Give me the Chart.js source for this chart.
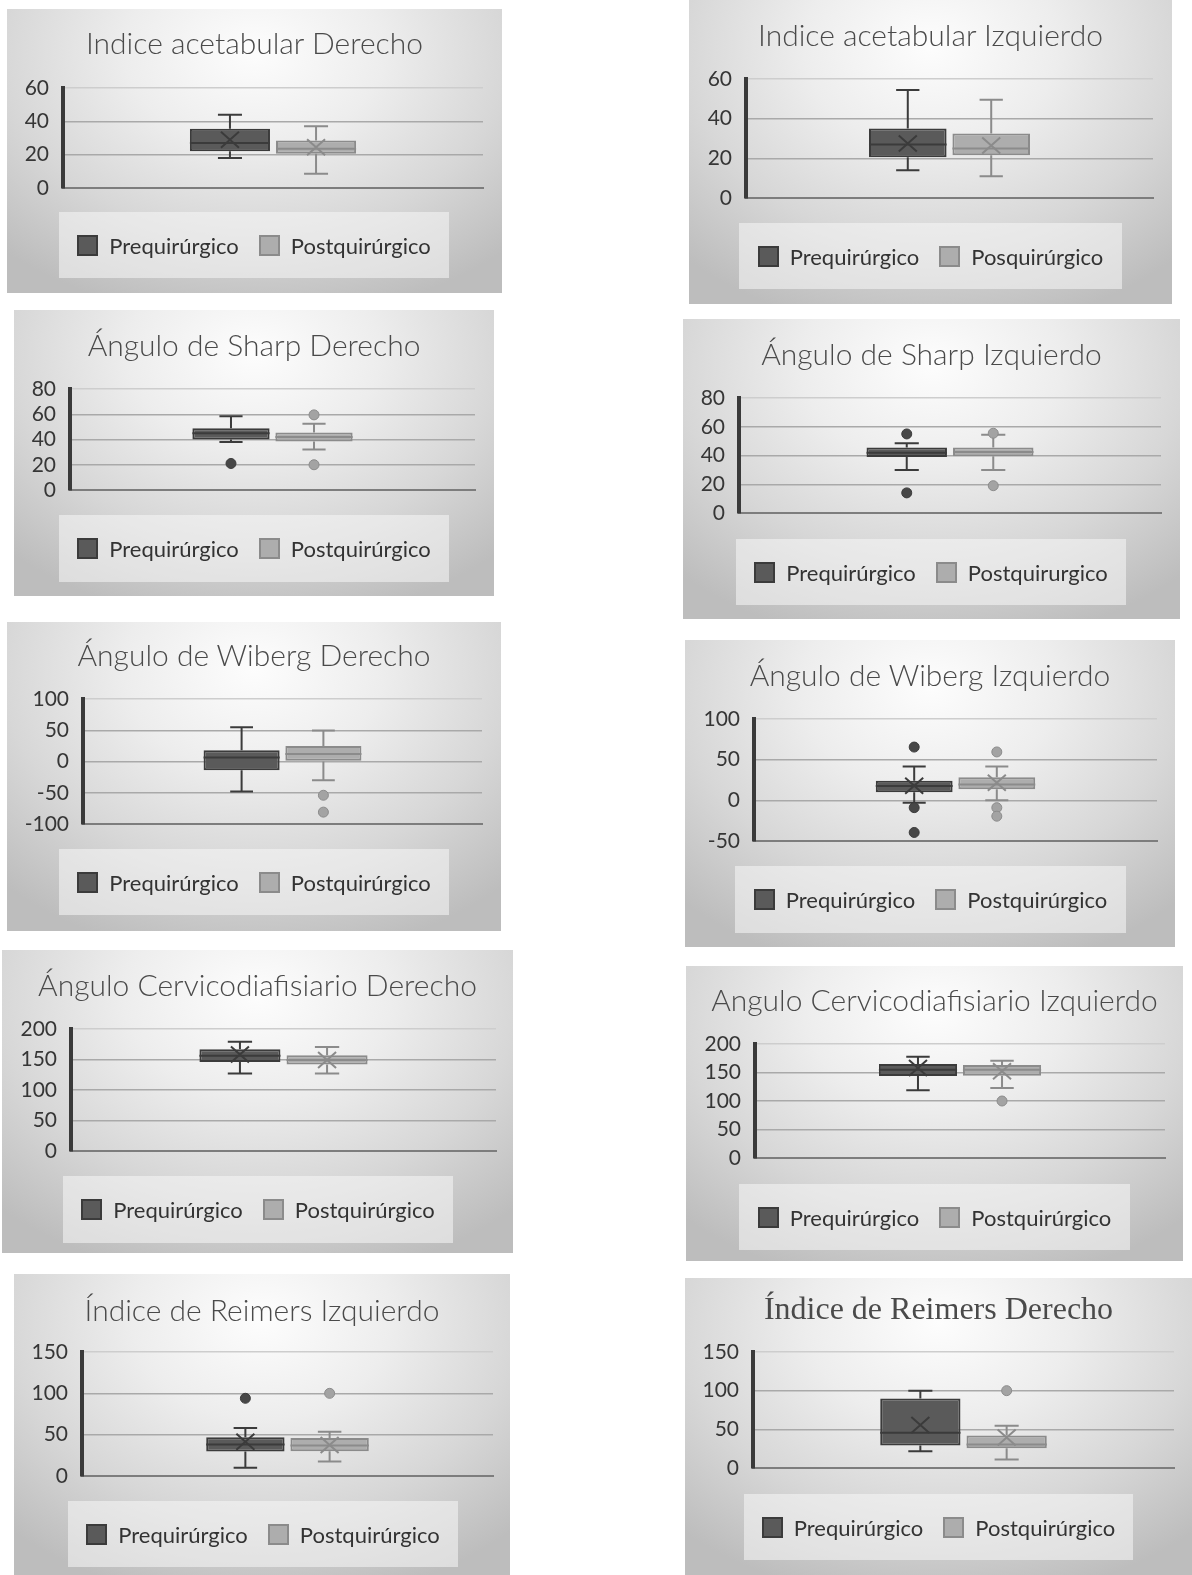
<!DOCTYPE html>
<html>
<head>
<meta charset="utf-8">
<script src="https://cdn.jsdelivr.net/npm/chart.js@4.4.0/dist/chart.umd.min.js"></script>
<style>
  body { margin: 0; background: #fff; width: 1192px; height: 1575px; position: relative; overflow: hidden; font-family: Lato, sans-serif; }
  .panel { position: absolute; background: radial-gradient(ellipse 75% 95% at 50% 15%, #fdfdfd 0%, #ededed 35%, #d7d7d7 68%, #bdbdbd 100%); }
  .panel canvas { position: absolute; left: 0; top: 0; }
  .title { position: absolute; left: 0; width: 100%; text-align: center; font-weight: 300; color: #4a4a4a; white-space: nowrap; line-height: 1; }
  .legend { position: absolute; background: rgba(248,248,248,0.55); display: flex; align-items: center; justify-content: center; font-size: 22px; color: #333; }
  .legend .item { display: flex; align-items: center; margin: 0 10px; }
  .legend .sw { width: 17px; height: 17px; border: 2px solid; margin-right: 11px; }
</style>
</head>
<body>
<script>
// panels in reading order: left, right, left, right ...
const titles = [
  'Indice acetabular Derecho', 'Indice acetabular Izquierdo',
  'Ángulo de Sharp Derecho', 'Ángulo de Sharp Izquierdo',
  'Ángulo de Wiberg Derecho', 'Ángulo de Wiberg Izquierdo',
  'Ángulo Cervicodiafisiario Derecho', 'Angulo Cervicodiafisiario Izquierdo',
  'Índice de Reimers Izquierdo', 'Índice de Reimers Derecho'
];
const preLabel = 'Prequirúrgico';
const postLabels = ['Postquirúrgico', 'Posquirúrgico', 'Postquirúrgico', 'Postquirurgico', 'Postquirúrgico',
  'Postquirúrgico', 'Postquirúrgico', 'Postquirúrgico', 'Postquirúrgico', 'Postquirúrgico'];

const yMin  = [0, 0, 0, 0, -100, -50, 0, 0, 0, 0];
const yMax  = [60, 60, 80, 80, 100, 100, 200, 200, 150, 150];
const yStep = [20, 20, 20, 20, 50, 50, 50, 50, 50, 50];

// Prequirúrgico: [min, q1, median, q3, max]
const preBox = [
  [18, 22, 27, 35.5, 44], [14, 20.5, 27, 35, 54.5],
  [38, 40, 45, 49, 58.5], [30, 39, 42, 45.5, 48.5],
  [-48, -14, 6.5, 18, 55], [-3, 10, 17.5, 24, 41.5],
  [127, 146, 156, 167, 179], [119, 144, 155, 165, 177.5],
  [10, 29.5, 38, 47, 58], [21.5, 29, 45.5, 90, 100]
];
const preMean = [29, 27.5, null, null, null, 18, 158, 158, 41.5, 55.5];
const preOutliers = [[], [], [21], [55, 14], [], [65.5, -9, -39.5], [], [], [94], []];

// Postquirúrgico: [min, q1, median, q3, max]
const postBox = [
  [8.5, 20.5, 23.5, 28.5, 37], [11, 21.5, 25, 32.5, 49.5],
  [32, 38.5, 42, 45.5, 52.5], [30, 39.5, 42.5, 45.5, 54.5],
  [-30, 0, 12, 25, 49.5], [0, 13.5, 19.5, 28.5, 41.5],
  [127, 142, 149, 157, 170.5], [123, 144.5, 155, 163, 170.5],
  [17.5, 30, 37, 46, 53.5], [11, 25.5, 30.5, 42, 54.5]
];
const postMean = [24.5, 26.5, null, null, null, 21.5, 149, 152, 37.5, 39.5];
const postOutliers = [[], [], [59.5, 20], [55.5, 19], [-54, -81], [59.5, -9, -19.5], [], [100], [100], [100]];

// layout: panel box, plot area, title baseline, legend box (page pixels)
const panelBox = [
  [7, 9, 495, 284], [689, 0, 483, 304],
  [14, 310, 480, 286], [683, 319, 497, 300],
  [7, 622, 494, 309], [685, 640, 490, 307],
  [2, 950, 511, 303], [686, 966, 497, 295],
  [14, 1274, 496, 301], [685, 1278, 507, 297]
];
const plotBox = [
  [63, 88, 483, 188], [746, 79, 1153, 198],
  [70, 389, 475, 490], [739, 398, 1161, 513],
  [83, 699, 482, 824], [754, 719, 1157, 841],
  [71, 1029, 496, 1151], [755, 1044, 1165, 1158],
  [82, 1352, 493, 1476], [753, 1352, 1174, 1468]
];
const titleBase = [53, 45, 355, 364, 665, 685, 995, 1010, 1320, 1320];
const legendBox = [
  [59, 212, 449, 278], [739, 223, 1122, 289],
  [59, 515, 449, 582], [736, 539, 1126, 605],
  [59, 849, 449, 915], [735, 866, 1126, 933],
  [63, 1176, 453, 1243], [739, 1184, 1130, 1250],
  [68, 1501, 458, 1567], [744, 1494, 1133, 1560]
];

const preColors = { fill: '#5a5a5a', line: '#3b3b3b', dot: '#474747' };
const postColors = { fill: '#adadad', line: '#8b8b8b', dot: '#a3a3a3' };

const boxExtras = {
  id: 'boxExtras',
  afterDatasetsDraw(chart, args, opts) {
    const ctx = chart.ctx, y = chart.scales.y;
    opts.series.forEach((s, i) => {
      const bar = chart.getDatasetMeta(i).data[0];
      const x = bar.x, half = bar.width / 2, cap = bar.width * 0.15;
      const p = v => y.getPixelForValue(v);
      ctx.save();
      ctx.strokeStyle = s.colors.line;
      ctx.lineWidth = 2;
      ctx.beginPath();
      ctx.moveTo(x, p(s.box[3])); ctx.lineTo(x, p(s.box[4]));
      ctx.moveTo(x - cap, p(s.box[4])); ctx.lineTo(x + cap, p(s.box[4]));
      ctx.moveTo(x, p(s.box[1])); ctx.lineTo(x, p(s.box[0]));
      ctx.moveTo(x - cap, p(s.box[0])); ctx.lineTo(x + cap, p(s.box[0]));
      ctx.moveTo(x - half, p(s.box[2])); ctx.lineTo(x + half, p(s.box[2]));
      ctx.stroke();
      if (s.mean != null) {
        const m = p(s.mean);
        ctx.beginPath();
        ctx.moveTo(x - 9, m - 8); ctx.lineTo(x + 9, m + 8);
        ctx.moveTo(x + 9, m - 8); ctx.lineTo(x - 9, m + 8);
        ctx.stroke();
      }
      s.outliers.forEach(v => {
        ctx.beginPath();
        ctx.arc(x, p(v), 5, 0, Math.PI * 2);
        ctx.fillStyle = s.colors.dot;
        ctx.fill();
        ctx.lineWidth = 1;
        ctx.stroke();
      });
      ctx.restore();
    });
  }
};

titles.forEach((title, k) => {
  const [bx, by, bw, bh] = panelBox[k];
  const [px0, py0, px1, py1] = plotBox[k];
  const panel = document.createElement('div');
  panel.className = 'panel';
  Object.assign(panel.style, { left: bx + 'px', top: by + 'px', width: bw + 'px', height: bh + 'px' });
  document.body.appendChild(panel);

  const canvas = document.createElement('canvas');
  canvas.width = bw; canvas.height = bh;
  canvas.style.width = bw + 'px'; canvas.style.height = bh + 'px';
  panel.appendChild(canvas);

  const t = document.createElement('div');
  t.className = 'title';
  t.textContent = title;
  let fs = 30;
  if (k === 9) { fs = 32; t.style.fontFamily = '"Liberation Serif", serif'; t.style.fontWeight = 400; }
  t.style.fontSize = fs + 'px';
  t.style.top = (titleBase[k] - by - fs * 0.86) + 'px';
  panel.appendChild(t);

  const [lx0, ly0, lx1, ly1] = legendBox[k];
  const lg = document.createElement('div');
  lg.className = 'legend';
  Object.assign(lg.style, { left: (lx0 - bx) + 'px', top: (ly0 - by) + 'px', width: (lx1 - lx0) + 'px', height: (ly1 - ly0) + 'px' });
  [[preLabel, preColors], [postLabels[k], postColors]].forEach(([txt, c]) => {
    const it = document.createElement('div');
    it.className = 'item';
    const sw = document.createElement('span');
    sw.className = 'sw';
    sw.style.background = c.fill; sw.style.borderColor = c.line;
    it.appendChild(sw);
    it.appendChild(document.createTextNode(txt));
    lg.appendChild(it);
  });
  panel.appendChild(lg);

  const axisW = px0 - bx;
  new Chart(canvas, {
    type: 'bar',
    data: {
      labels: [''],
      datasets: [
        { label: preLabel, data: [[preBox[k][1], preBox[k][3]]], backgroundColor: preColors.fill, borderColor: preColors.line, borderWidth: 2, borderSkipped: false },
        { label: postLabels[k], data: [[postBox[k][1], postBox[k][3]]], backgroundColor: postColors.fill, borderColor: postColors.line, borderWidth: 2, borderSkipped: false }
      ]
    },
    options: {
      responsive: false,
      animation: false,
      categoryPercentage: 0.41,
      barPercentage: 0.93,
      layout: { padding: { left: 0, top: py0 - by, right: bx + bw - px1, bottom: by + bh - py1 } },
      scales: {
        x: {
          ticks: { display: false },
          grid: { display: false, drawTicks: false },
          border: { display: true, color: '#7d7d7d', width: 2 }
        },
        y: {
          min: yMin[k], max: yMax[k],
          ticks: { stepSize: yStep[k], autoSkip: false, padding: 14, color: '#363636', font: { family: 'Lato', size: 21 } },
          grid: { drawTicks: false, lineWidth: 1.5, color: c => c.index === c.chart.scales.y.ticks.length - 1 ? '#cdcdcd' : '#a9a9a9' },
          border: { display: true, color: '#3a3a3a', width: 4 },
          afterFit: s => { s.width = axisW; }
        }
      },
      plugins: {
        legend: { display: false },
        title: { display: false },
        tooltip: { enabled: false },
        boxExtras: {
          series: [
            { box: preBox[k], mean: preMean[k], outliers: preOutliers[k], colors: preColors },
            { box: postBox[k], mean: postMean[k], outliers: postOutliers[k], colors: postColors }
          ]
        }
      }
    },
    plugins: [boxExtras]
  });
});
</script>
</body>
</html>
